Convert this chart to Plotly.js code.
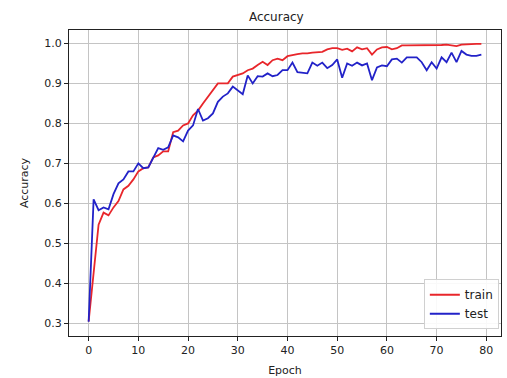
<!DOCTYPE html>
<html><head><meta charset="utf-8">
<script src="https://cdn.plot.ly/plotly-3.0.1.min.js"></script>
<style>html,body{margin:0;padding:0;background:#fff;}#chart{width:507px;height:378px;}</style>
</head><body><div id="chart"></div>
<script>
const epochs = Array.from({length: 80}, (_, i) => i);
const trainAcc = [
  0.305, 0.42, 0.547, 0.577, 0.570, 0.590, 0.606, 0.635, 0.644, 0.660,
  0.680, 0.688, 0.690, 0.715, 0.720, 0.730, 0.730, 0.778, 0.782, 0.795,
  0.800, 0.820, 0.832, 0.850, 0.866, 0.883, 0.900, 0.900, 0.900, 0.917,
  0.921, 0.925, 0.933, 0.937, 0.946, 0.954, 0.946, 0.958, 0.962, 0.958,
  0.968, 0.971, 0.973, 0.975, 0.975, 0.977, 0.978, 0.979, 0.985, 0.988,
  0.988, 0.984, 0.987, 0.980, 0.990, 0.985, 0.988, 0.972, 0.985, 0.990,
  0.991, 0.985, 0.988, 0.995, 0.995, 0.995, 0.995, 0.996, 0.995, 0.996,
  0.996, 0.996, 0.997, 0.995, 0.993, 0.997, 0.998, 0.998, 0.999, 0.999
];
const testAcc = [
  0.304, 0.610, 0.583, 0.590, 0.585, 0.623, 0.650, 0.660, 0.680, 0.680,
  0.700, 0.688, 0.690, 0.715, 0.738, 0.734, 0.740, 0.770, 0.765, 0.755,
  0.782, 0.795, 0.836, 0.807, 0.813, 0.825, 0.854, 0.867, 0.875, 0.892,
  0.883, 0.873, 0.920, 0.900, 0.918, 0.917, 0.925, 0.918, 0.921, 0.933,
  0.933, 0.952, 0.928, 0.926, 0.925, 0.952, 0.944, 0.952, 0.938, 0.946,
  0.960, 0.914, 0.950, 0.944, 0.952, 0.945, 0.950, 0.908, 0.940, 0.945,
  0.943, 0.960, 0.962, 0.952, 0.965, 0.965, 0.965, 0.953, 0.933, 0.953,
  0.937, 0.965, 0.953, 0.977, 0.953, 0.981, 0.972, 0.969, 0.969, 0.972
];
const xTicks = [0, 10, 20, 30, 40, 50, 60, 70, 80];
const yTicks = [0.3, 0.4, 0.5, 0.6, 0.7, 0.8, 0.9, 1.0];

const font = {family: 'DejaVu Sans, sans-serif', size: 11, color: '#222'};
const traces = [
  {x: epochs, y: trainAcc, name: 'train', mode: 'lines', line: {color: '#e8262b', width: 1.8}},
  {x: epochs, y: testAcc, name: 'test', mode: 'lines', line: {color: '#2222c8', width: 1.8}}
];
const axisCommon = {
  showline: true, mirror: true, linecolor: '#222', linewidth: 1,
  showgrid: true, gridcolor: '#c4c4c4', gridwidth: 1,
  ticks: 'outside', ticklen: 4, tickcolor: '#222', tickwidth: 1,
  zeroline: false, tickfont: font
};
const layout = {
  width: 507, height: 378,
  paper_bgcolor: '#fff', plot_bgcolor: '#fff',
  margin: {l: 69, r: 6, t: 30, b: 42},
  font: font,
  title: {text: 'Accuracy', font: {family: 'DejaVu Sans, sans-serif', size: 12, color: '#222'}, x: 0.545, xanchor: 'center', y: 0.955, yanchor: 'middle'},
  xaxis: Object.assign({}, axisCommon, {
    range: [-3.95, 82.95], tickvals: xTicks, ticktext: xTicks.map(String),
    title: {text: 'Epoch', font: font, standoff: 10}
  }),
  yaxis: Object.assign({}, axisCommon, {
    range: [0.2685, 1.0335], tickvals: yTicks, ticktext: yTicks.map(v => v.toFixed(1)),
    title: {text: 'Accuracy', font: font, standoff: 13}
  }),
  showlegend: true,
  legend: {x: 0.995, y: 0.022, xanchor: 'right', yanchor: 'bottom',
    bgcolor: 'rgba(255,255,255,0.9)', bordercolor: '#d0d0d0', borderwidth: 1,
    font: {family: 'DejaVu Sans, sans-serif', size: 12, color: '#222'}, tracegroupgap: 2}
};
Plotly.newPlot('chart', traces, layout, {displayModeBar: false, staticPlot: true});
</script></body></html>
